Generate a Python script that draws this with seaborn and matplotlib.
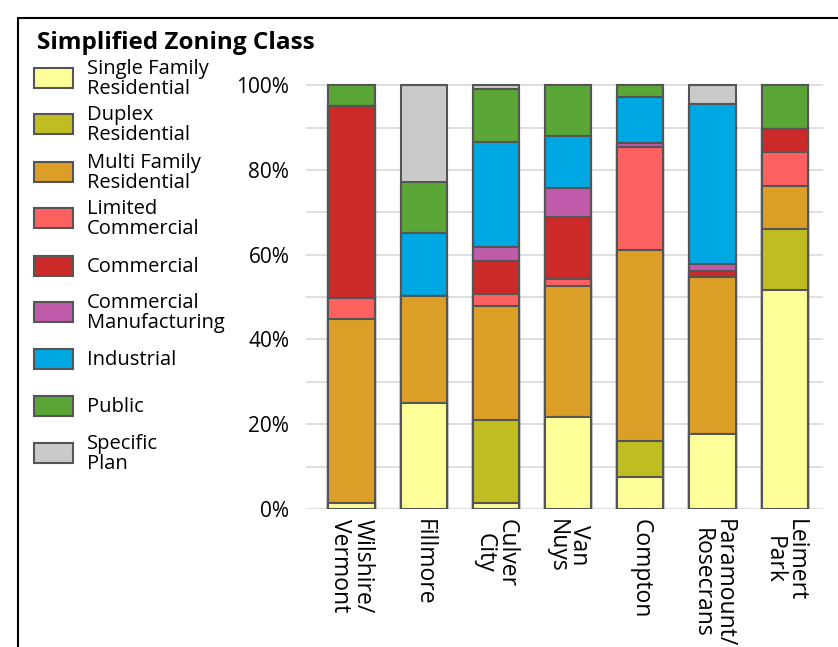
import numpy as np
import pandas as pd
import matplotlib
matplotlib.use('Agg')
import matplotlib.pyplot as plt
from matplotlib.patches import Rectangle
import seaborn as sns

# dados
sites = ['Wilshire/\nVermont', 'Fillmore', 'Culver\nCity', 'Van\nNuys',
         'Compton', 'Paramount/\nRosecrans', 'Leimert\nPark']
classes = ['Single Family\nResidential', 'Duplex\nResidential', 'Multi Family\nResidential',
           'Limited\nCommercial', 'Commercial', 'Commercial\nManufacturing',
           'Industrial', 'Public', 'Specific\nPlan']
colors = ['#FFFF99', '#BFBD22', '#DB9E27', '#FF6161', '#CC2A29', '#C05AAA',
          '#00A8E3', '#5AA637', '#CACACA']

single_family = [1.4, 25.0, 1.4, 21.8, 7.5, 17.7, 51.6]
duplex        = [0.0, 0.0, 19.6, 0.0, 8.6, 0.0, 14.5]
multi_family  = [43.5, 25.3, 27.0, 30.7, 45.0, 37.1, 10.0]
limited_comm  = [4.9, 0.0, 2.7, 1.7, 24.3, 0.0, 8.1]
commercial    = [45.3, 0.0, 7.8, 14.7, 0.0, 1.4, 5.5]
comm_manuf    = [0.0, 0.0, 3.2, 6.8, 1.0, 1.7, 0.0]
industrial    = [0.0, 14.9, 24.8, 12.2, 10.9, 37.6, 0.0]
public        = [4.9, 11.9, 12.6, 12.1, 2.7, 0.0, 10.3]
specific_plan = [0.0, 22.9, 0.9, 0.0, 0.0, 4.5, 0.0]

series = [single_family, duplex, multi_family, limited_comm, commercial,
          comm_manuf, industrial, public, specific_plan]

df = pd.DataFrame(np.array(series).T, columns=classes)
df['site'] = sites
cum = df[classes].cumsum(axis=1)
cum['site'] = sites

W, H = 838, 647
fig = plt.figure(figsize=(W / 100, H / 100), dpi=100)
plt.rcParams['font.family'] = ['Open Sans', 'DejaVu Sans']
ax = fig.add_axes([306 / W, 1 - 509 / H, (823 - 306) / W, (509 - 83) / H])

# barras empilhadas: desenhar do topo para baixo
for c, col in reversed(list(zip(classes, colors))):
    sns.barplot(data=cum, x='site', y=c, color=col, width=0.64,
                edgecolor='#555555', linewidth=1.5, saturation=1, ax=ax,
                order=sites)

ax.set_xlim(-0.63, 6.53)
ax.set_ylim(0, 100.5)
ax.set_yticks(range(0, 101, 20))
ax.set_yticklabels([f'{v}%' for v in range(0, 101, 20)], fontsize=15)
ax.set_yticks(range(0, 101, 10), minor=True)
ax.grid(axis='y', which='both', color='#d9d9d9', linewidth=1.2)
ax.set_axisbelow(True)
ax.tick_params(axis='y', which='both', length=0, pad=12)
ax.tick_params(axis='x', length=0, pad=7)
ax.set_xticks(range(len(sites)))
ax.set_xticklabels(sites, rotation=-90, fontsize=16.5, va='top', ha='center',
                   linespacing=0.9)
ax.set_xlabel('')
ax.set_ylabel('')
for s in ax.spines.values():
    s.set_visible(False)

# legenda manual
fig.text(37 / W, 1 - 43 / H, 'Simplified Zoning Class', fontsize=17.5,
         fontweight='bold', va='center', ha='left')
box_y = [78, 124, 172, 218, 266, 312, 359, 406, 453]
for yc, lab, col in zip(box_y, classes, colors):
    fig.add_artist(Rectangle((34 / W, 1 - (yc + 10) / H), 39 / W, 20 / H,
                             transform=fig.transFigure, facecolor=col,
                             edgecolor='#555555', linewidth=1.5))
    fig.text(87 / W, 1 - (yc + 1) / H, lab, fontsize=14.5, va='center', ha='left',
             linespacing=0.95)

# moldura
fig.add_artist(Rectangle((18 / W, -0.01), 1.0, 1 - 18 / H + 0.01,
                         transform=fig.transFigure, fill=False,
                         edgecolor='black', linewidth=1.5))

fig.savefig('out.png', dpi=100)
